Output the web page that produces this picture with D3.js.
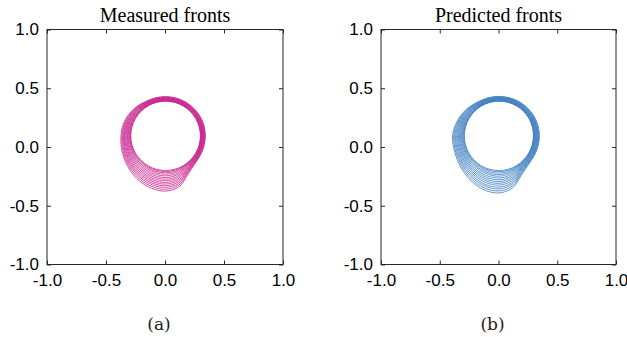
<!DOCTYPE html>
<html>
<head>
<meta charset="utf-8">
<script src="https://cdn.jsdelivr.net/npm/d3@7"></script>
<style>
  html, body { margin: 0; padding: 0; background: #fff; }
  svg { display: block; }
</style>
</head>
<body>
<svg id="chart" width="627" height="337"></svg>
<script>
// Axis ticks and their labels (same on both axes of both panels)
const tickValues = [-1, -0.5, 0, 0.5, 1];
const tickLabels = ["-1.0", "-0.5", "0.0", "0.5", "1.0"];

const panelTitles = ["Measured fronts", "Predicted fronts"];
const panelCaptions = ["(a)", "(b)"];

// Polar description of the fronts around a common centre:
// radius of the innermost and outermost front at each angle (degrees).
const frontCenter = [0.005, 0.095];
const profileAngles = [0, 15, 30, 45, 60, 75, 90, 105, 120, 135, 150, 165,
                       180, 195, 210, 225, 240, 255, 270, 285, 300, 315, 330, 345];
const measuredInnerRadius = [0.295, 0.295, 0.295, 0.295, 0.295, 0.295, 0.295, 0.295,
                             0.295, 0.295, 0.295, 0.295, 0.295, 0.295, 0.295, 0.295,
                             0.295, 0.295, 0.295, 0.295, 0.295, 0.295, 0.295, 0.295];
const measuredOuterRadius = [0.337, 0.337, 0.336, 0.335, 0.334, 0.334, 0.334, 0.335,
                             0.338, 0.350, 0.362, 0.372, 0.378, 0.388, 0.402, 0.422,
                             0.443, 0.462, 0.470, 0.448, 0.378, 0.345, 0.338, 0.337];
const predictedInnerRadius = [0.292, 0.293, 0.294, 0.295, 0.295, 0.295, 0.295, 0.295,
                              0.295, 0.295, 0.295, 0.295, 0.296, 0.296, 0.296, 0.296,
                              0.296, 0.296, 0.296, 0.295, 0.294, 0.293, 0.292, 0.292];
const predictedOuterRadius = [0.343, 0.343, 0.341, 0.339, 0.337, 0.336, 0.336, 0.337,
                              0.340, 0.352, 0.368, 0.382, 0.396, 0.400, 0.410, 0.430,
                              0.455, 0.478, 0.486, 0.456, 0.382, 0.350, 0.344, 0.343];

// Position of each front between the innermost (0) and outermost (1) profile
const measuredFronts = [0, 0.05, 0.11, 0.18, 0.26, 0.34, 0.42, 0.50,
                        0.58, 0.66, 0.74, 0.82, 0.91, 1];
const predictedFronts = [0, 0.05, 0.11, 0.18, 0.25, 0.33, 0.41, 0.49,
                         0.57, 0.65, 0.74, 0.82, 0.91, 1];

const panels = [
  { x0: 47, x1: 283, color: "#c8228e", inner: measuredInnerRadius, outer: measuredOuterRadius, fronts: measuredFronts },
  { x0: 381, x1: 616, color: "#3a7cc0", inner: predictedInnerRadius, outer: predictedOuterRadius, fronts: predictedFronts }
];
const yTop = 29.5, yBottom = 264.5;

const svg = d3.select("#chart");
const frameColor = "#262626";

panels.forEach((p, i) => {
  const x = d3.scaleLinear().domain([-1, 1]).range([p.x0, p.x1]);
  const y = d3.scaleLinear().domain([-1, 1]).range([yBottom, yTop]);
  const g = svg.append("g");

  // fronts
  const line = d3.line()
    .x(d => x(d[0]))
    .y(d => y(d[1]))
    .curve(d3.curveCatmullRomClosed.alpha(0.5));

  p.fronts.forEach(f => {
    const pts = profileAngles.map((a, j) => {
      const r = p.inner[j] + f * (p.outer[j] - p.inner[j]);
      const t = a * Math.PI / 180;
      return [frontCenter[0] + r * Math.cos(t), frontCenter[1] + r * Math.sin(t)];
    });
    g.append("path")
      .attr("d", line(pts))
      .attr("fill", "none")
      .attr("stroke", p.color)
      .attr("stroke-width", 0.8);
  });

  // axes with inward ticks on all four sides
  const fmt = (d) => tickLabels[tickValues.indexOf(d)];
  const axisStyle = sel => {
    sel.select(".domain").remove();
    sel.selectAll(".tick line").attr("stroke", frameColor).attr("stroke-width", 1);
    sel.selectAll(".tick text")
      .attr("fill", "#000")
      .style("font-family", "'Liberation Sans', Arial, sans-serif")
      .style("font-size", "17px");
  };

  g.append("g").attr("transform", `translate(0,${yBottom})`)
    .call(d3.axisBottom(x).tickValues(tickValues).tickFormat(fmt).tickSizeInner(-4).tickPadding(9))
    .call(axisStyle);
  g.append("g").attr("transform", `translate(${p.x0},0)`)
    .call(d3.axisLeft(y).tickValues(tickValues).tickFormat(fmt).tickSizeInner(-4).tickPadding(8))
    .call(axisStyle);
  g.append("g").attr("transform", `translate(0,${yTop})`)
    .call(d3.axisTop(x).tickValues(tickValues).tickFormat("").tickSizeInner(-4))
    .call(axisStyle);
  g.append("g").attr("transform", `translate(${p.x1},0)`)
    .call(d3.axisRight(y).tickValues(tickValues).tickFormat("").tickSizeInner(-4))
    .call(axisStyle);

  g.append("rect")
    .attr("x", p.x0).attr("y", yTop)
    .attr("width", p.x1 - p.x0).attr("height", yBottom - yTop)
    .attr("fill", "none").attr("stroke", frameColor).attr("stroke-width", 1);

  // title
  g.append("text")
    .attr("x", (p.x0 + p.x1) / 2).attr("y", 21.5)
    .attr("text-anchor", "middle")
    .style("font-family", "'Liberation Serif', 'Times New Roman', serif")
    .style("font-size", "20px")
    .text(panelTitles[i]);

  // caption
  g.append("text")
    .attr("x", (p.x0 + p.x1) / 2 - 6).attr("y", 330)
    .attr("text-anchor", "middle")
    .attr("fill", "#222")
    .style("font-family", "'DejaVu Serif', 'Liberation Serif', serif")
    .style("font-size", "17px")
    .text(panelCaptions[i]);
});
</script>
</body>
</html>
